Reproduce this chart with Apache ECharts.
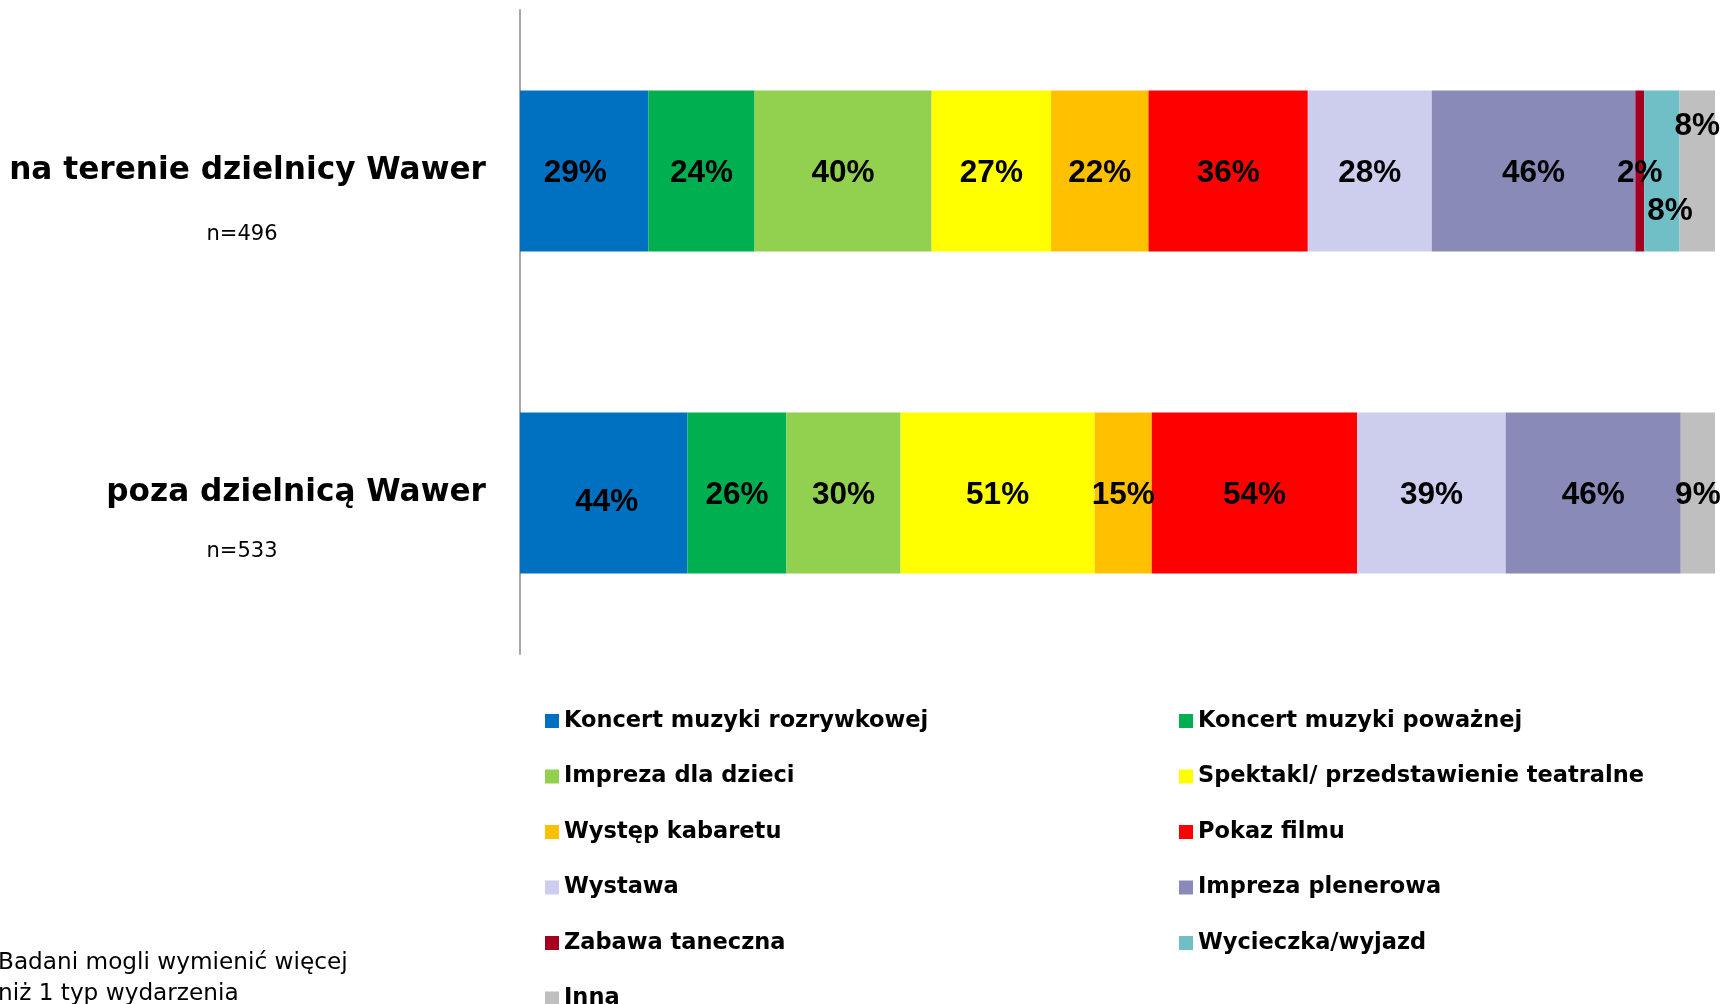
<!DOCTYPE html>
<html>
<head>
<meta charset="utf-8">
<script src="https://cdn.jsdelivr.net/npm/echarts@6/dist/echarts.min.js"></script>
<style>
html,body{margin:0;padding:0;background:#fff;overflow:hidden}
#c{width:1725px;height:1004px}
</style>
</head>
<body>
<div id="c"></div>
<script>
// ---- data ----
const groups = ['na terenie dzielnicy Wawer', 'poza dzielnicą Wawer'];
const sampleSizes = ['n=496', 'n=533'];
const eventTypes = [
  'Koncert muzyki rozrywkowej',
  'Koncert muzyki poważnej',
  'Impreza dla dzieci',
  'Spektakl/ przedstawienie teatralne',
  'Występ kabaretu',
  'Pokaz filmu',
  'Wystawa',
  'Impreza plenerowa',
  'Zabawa taneczna',
  'Wycieczka/wyjazd',
  'Inna'
];
const naTerenie = [29, 24, 40, 27, 22, 36, 28, 46, 2, 8, 8];
const pozaDzielnica = [44, 26, 30, 51, 15, 54, 39, 46, 0, 0, 9];
const footnote = ['Badani mogli wymienić więcej', 'niż 1 typ wydarzenia'];

// ---- styling ----
const colors = ['#0070C0', '#00B050', '#92D050', '#FFFF00', '#FFC000', '#FF0000',
                '#CDCDED', '#8A8AB8', '#A50021', '#70BFC6', '#BFBFBF'];
const baseLabelOffset = [0, 2.5];
const labelOffsets = { '10-0': [0, -45], '9-0': [8, 40], '0-0': [-9, 2.5], '0-1': [3, 9] };

const rows = [naTerenie, pozaDzielnica];
const totals = rows.map(r => r.reduce((a, b) => a + b, 0));

const series = eventTypes.map((name, si) => ({
  name: name,
  type: 'bar',
  stack: 'total',
  barWidth: '50%',
  itemStyle: { color: colors[si] },
  label: {
    show: true,
    position: 'inside',
    offset: baseLabelOffset,
    color: '#000',
    fontFamily: 'Liberation Sans, Arial, sans-serif',
    fontWeight: 'bold',
    fontSize: 31.5,
    textBorderWidth: 0,
    formatter: p => {
      const raw = rows[p.dataIndex][si];
      return raw > 0 ? raw + '%' : '';
    }
  },
  data: rows.map((r, ri) => {
    const item = { value: r[si] / totals[ri] * 100 };
    const off = labelOffsets[si + '-' + ri];
    if (off) item.label = { offset: off };
    return item;
  })
}));

const col1 = eventTypes.filter((_, i) => i % 2 === 0);
const col2 = eventTypes.filter((_, i) => i % 2 === 1);
const legendBase = {
  orient: 'vertical',
  top: 707,
  height: 330,
  padding: 0,
  icon: 'rect',
  itemWidth: 14,
  itemHeight: 14,
  itemGap: 27.5,
  selectedMode: false,
  textStyle: {
    fontFamily: 'DejaVu Sans, sans-serif',
    fontWeight: 'bold',
    fontSize: 22.5,
    lineHeight: 28,
    color: '#000'
  }
};

const chart = echarts.init(document.getElementById('c'), null, { renderer: 'canvas' });
chart.setOption({
  animation: false,
  backgroundColor: '#fff',
  grid: { left: 520, right: 10, top: 10, bottom: 350, containLabel: false },
  xAxis: { type: 'value', min: 0, max: 100, show: false },
  yAxis: [
    {
      type: 'category',
      data: groups,
      inverse: true,
      position: 'left',
      axisLine: { show: true, lineStyle: { color: '#A6A6A6', width: 2 } },
      axisTick: { show: false },
      splitLine: { show: false },
      axisLabel: {
        interval: 0,
        margin: 34,
        align: 'right',
        color: '#000',
        fontFamily: 'DejaVu Sans, sans-serif',
        fontWeight: 'bold',
        fontSize: 31.2
      }
    },
    {
      type: 'category',
      data: groups,
      inverse: true,
      position: 'left',
      axisLine: { show: false },
      axisTick: { show: false },
      splitLine: { show: false },
      axisLabel: {
        interval: 0,
        margin: 278,
        align: 'center',
        formatter: (v, i) => '{g' + i + '| }\n{n|' + sampleSizes[i] + '}',
        rich: {
          g0: { lineHeight: 128, fontSize: 2 },
          g1: { lineHeight: 118, fontSize: 2 },
          n: { lineHeight: 24, fontSize: 21, color: '#000', fontFamily: 'DejaVu Sans, sans-serif' }
        }
      }
    }
  ],
  legend: [
    Object.assign({}, legendBase, { left: 545, data: col1 }),
    Object.assign({}, legendBase, { left: 1179, data: col2 })
  ],
  graphic: [{
    type: 'text',
    left: -2,
    top: 947,
    style: {
      text: footnote.join('\n'),
      fill: '#000',
      font: '23.2px "DejaVu Sans", sans-serif',
      lineHeight: 31
    }
  }],
  series: series
});
</script>
</body>
</html>
